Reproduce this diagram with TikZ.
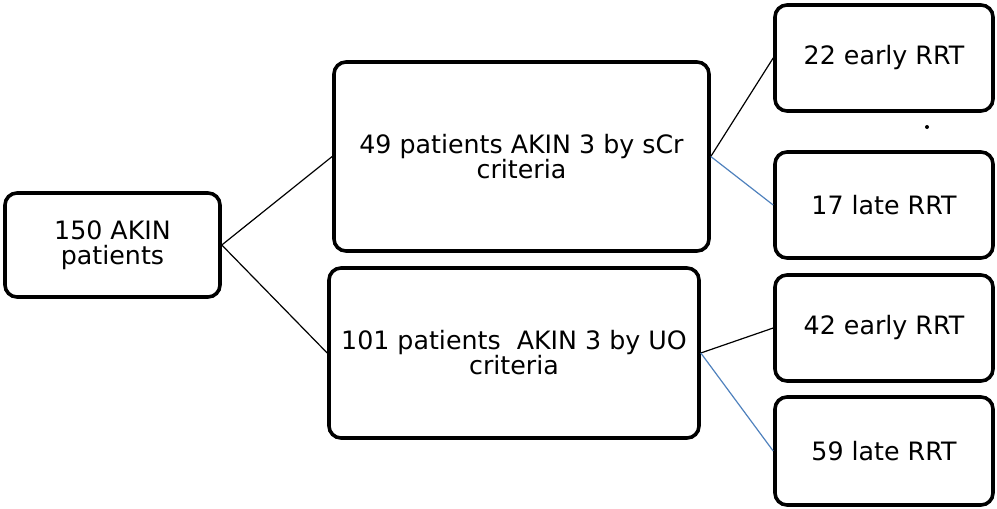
\documentclass[tikz,border=0pt]{standalone}
\usepackage{fontspec}
\setmainfont{DejaVu Sans}
\definecolor{linkblue}{RGB}{79,129,189}
\begin{document}
\begin{tikzpicture}[x=1pt,y=-1pt,
  box/.style={draw=black, line width=3.6pt, rounded corners=12pt, fill=white,
    align=center, inner sep=0pt, font=\fontsize{25.3}{25}\selectfont},
  blackline/.style={draw=black, line width=1.2pt},
  blueline/.style={draw=linkblue, line width=1.2pt}]
\useasboundingbox (0,0) rectangle (997,509);
\node[box, minimum width=215pt, minimum height=104pt] (a) at (112.5,245) {150 AKIN\\patients};
\node[box, minimum width=375pt, minimum height=189pt] (b) at (521.5,156.5) {49 patients AKIN 3 by sCr\\criteria};
\node[box, minimum width=370pt, minimum height=170pt] (c) at (514,353) {101 patients\ \ AKIN 3 by UO\\criteria};
\node[box, minimum width=218pt, minimum height=106pt] (d) at (884,58) {22 early RRT};
\node[box, minimum width=218pt, minimum height=106pt] (e) at (884,205) {17 late RRT};
\node[box, minimum width=218pt, minimum height=106pt] (f) at (884,328) {42 early RRT};
\node[box, minimum width=218pt, minimum height=108pt] (g) at (884,451) {59 late RRT};
\draw[blackline] (a.east) -- (b.west);
\draw[blackline] (a.east) -- (c.west);
\draw[blackline] (b.east) -- (d.west);
\draw[blueline] (b.east) -- (e.west);
\draw[blackline] (c.east) -- (f.west);
\draw[blueline] (c.east) -- (g.west);
\fill[black] (927,127) circle (2pt);
\end{tikzpicture}
\end{document}
